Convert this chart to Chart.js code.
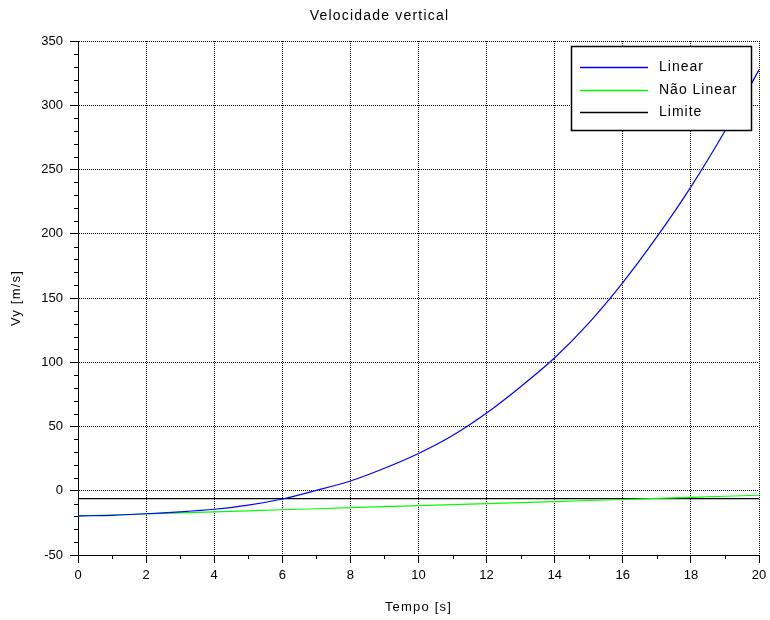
<!DOCTYPE html>
<html>
<head>
<meta charset="utf-8">
<title>Velocidade vertical</title>
<script src="https://cdn.jsdelivr.net/npm/chart.js@4.4.1/dist/chart.umd.min.js"></script>
<style>
  html, body { margin: 0; padding: 0; background: #fff; }
</style>
</head>
<body>
<canvas id="vyChart" width="770" height="620"></canvas>
<script>
// Velocidade vertical

const tempo = [0, 1, 2, 3, 4, 5, 6, 7, 8, 9, 10, 11, 12, 13, 14, 15, 16, 17, 18, 19, 20];
const vyLinear = [-19.6, -19.1, -17.9, -16.4, -14.4, -11.2, -6.4, 0.3, 7.6, 17.5, 29, 43, 60.5, 81, 103.5, 130.5, 162, 197.5, 236.5, 280, 327.5];

const tempoNaoLinear = [0, 2, 4, 6, 8, 10, 12, 14, 16, 18, 20];
const vyNaoLinear = [-19.6, -18.1, -16.4, -14.8, -13.2, -11.6, -10.0, -8.4, -6.8, -5.1, -3.5];

const tempoLimite = [0, 20];
const vyLimite = [-6.2, -6.2];

const legendLabels = ['Linear', 'Não Linear', 'Limite'];
const seriesColors = ['#0000ff', '#00ff00', '#000000'];

const xRange = [0, 20];
const yRange = [-50, 350];

const FONT = '"Liberation Sans", Arial, sans-serif';

const toPoints = (xs, ys) => xs.map((x, i) => ({ x, y: ys[i] }));

Chart.defaults.font.family = FONT;
Chart.defaults.font.size = 13;
Chart.defaults.color = '#000';

// scilab text is spaced out a bit; tick numbers stay tight
const spacedText = {
  id: 'spacedText',
  beforeDraw(chart) {
    Object.values(chart.scales).forEach(s => {
      if (s._plainLabels) return;
      const orig = s.drawLabels.bind(s);
      s.drawLabels = ca => {
        const c = s.ctx;
        const prev = c.letterSpacing;
        c.letterSpacing = '0px';
        orig(ca);
        c.letterSpacing = prev;
      };
      s._plainLabels = true;
    });
    chart.ctx.letterSpacing = '1.2px';
  },
  afterDraw(chart) {
    chart.ctx.letterSpacing = '0px';
  }
};

// small secondary ticks, like scilab draws them
const minorTicks = {
  id: 'minorTicks',
  afterDraw(chart) {
    const { ctx, chartArea, scales: { x, y } } = chart;
    ctx.save();
    ctx.strokeStyle = '#000';
    ctx.lineWidth = 1;
    ctx.beginPath();
    for (let v = xRange[0] + 1; v < xRange[1]; v += 2) {
      const px = Math.round(x.getPixelForValue(v)) + 0.5;
      ctx.moveTo(px, chartArea.bottom);
      ctx.lineTo(px, chartArea.bottom + 4);
    }
    for (let v = yRange[0] + 10; v < yRange[1]; v += 10) {
      if (v % 50 === 0) continue;
      const py = Math.round(y.getPixelForValue(v)) + 0.5;
      ctx.moveTo(chartArea.left - 4, py);
      ctx.lineTo(chartArea.left, py);
    }
    ctx.stroke();
    ctx.restore();
  }
};

// boxed legend in the top right corner of the plot
const boxLegend = {
  id: 'boxLegend',
  afterDraw(chart) {
    const { ctx, chartArea } = chart;
    const w = 180, h = 84;
    const left = Math.round(chartArea.right - 8 - w);
    const top = Math.round(chartArea.top + 5);
    ctx.save();
    ctx.fillStyle = '#fff';
    ctx.fillRect(left, top, w, h);
    ctx.strokeStyle = '#000';
    ctx.lineWidth = 1.5;
    ctx.strokeRect(left + 0.5, top + 0.5, w, h);
    ctx.font = '14px ' + FONT;
    ctx.letterSpacing = '1px';
    ctx.textBaseline = 'middle';
    legendLabels.forEach((label, i) => {
      const rowY = Math.round(top + 21 + i * 22.5) + 0.5;
      ctx.strokeStyle = seriesColors[i];
      ctx.lineWidth = 1.3;
      ctx.beginPath();
      ctx.moveTo(left + 9, rowY);
      ctx.lineTo(left + 77, rowY);
      ctx.stroke();
      ctx.fillStyle = '#000';
      ctx.fillText(label, left + 88, rowY);
    });
    ctx.restore();
  }
};

const lineDataset = (label, points, color) => ({
  label,
  data: points,
  borderColor: color,
  backgroundColor: color,
  borderWidth: 1.2,
  pointRadius: 0,
  tension: 0.3,
  fill: false,
  showLine: true,
});

new Chart(document.getElementById('vyChart'), {
  type: 'scatter',
  data: {
    datasets: [
      lineDataset(legendLabels[0], toPoints(tempo, vyLinear), seriesColors[0]),
      lineDataset(legendLabels[1], toPoints(tempoNaoLinear, vyNaoLinear), seriesColors[1]),
      lineDataset(legendLabels[2], toPoints(tempoLimite, vyLimite), seriesColors[2]),
    ],
  },
  options: {
    responsive: false,
    animation: false,
    devicePixelRatio: 1,
    layout: { padding: { top: 7.6, right: 11, left: 0, bottom: 0 } },
    plugins: {
      legend: { display: false },
      tooltip: { enabled: false },
      title: {
        display: true,
        text: 'Velocidade vertical',
        color: '#000',
        font: { size: 14, weight: 'normal' },
        padding: { top: 0, bottom: 16.6 },
      },
    },
    scales: {
      x: {
        type: 'linear',
        min: xRange[0],
        max: xRange[1],
        ticks: { stepSize: 2, padding: 5, maxRotation: 0 },
        grid: { color: '#000', lineWidth: 1, tickColor: '#000', tickLength: 8, tickBorderDash: [] },
        border: { display: true, color: '#000', width: 1, dash: [1, 1] },
        title: { display: true, text: 'Tempo [s]', padding: { top: 4, bottom: 5 } },
        afterFit: s => { s.height = 65; s.paddingLeft = 0; s.paddingRight = 0; },
      },
      y: {
        type: 'linear',
        min: yRange[0],
        max: yRange[1],
        ticks: { stepSize: 50, padding: 7 },
        grid: { color: '#000', lineWidth: 1, tickColor: '#000', tickLength: 8, tickBorderDash: [] },
        border: { display: true, color: '#000', width: 1, dash: [1, 1] },
        title: { display: true, text: 'Vy [m/s]', padding: { top: 9, bottom: 4 } },
        afterFit: s => { s.width = 78; },
      },
    },
  },
  plugins: [spacedText, minorTicks, boxLegend],
});
</script>
</body>
</html>
